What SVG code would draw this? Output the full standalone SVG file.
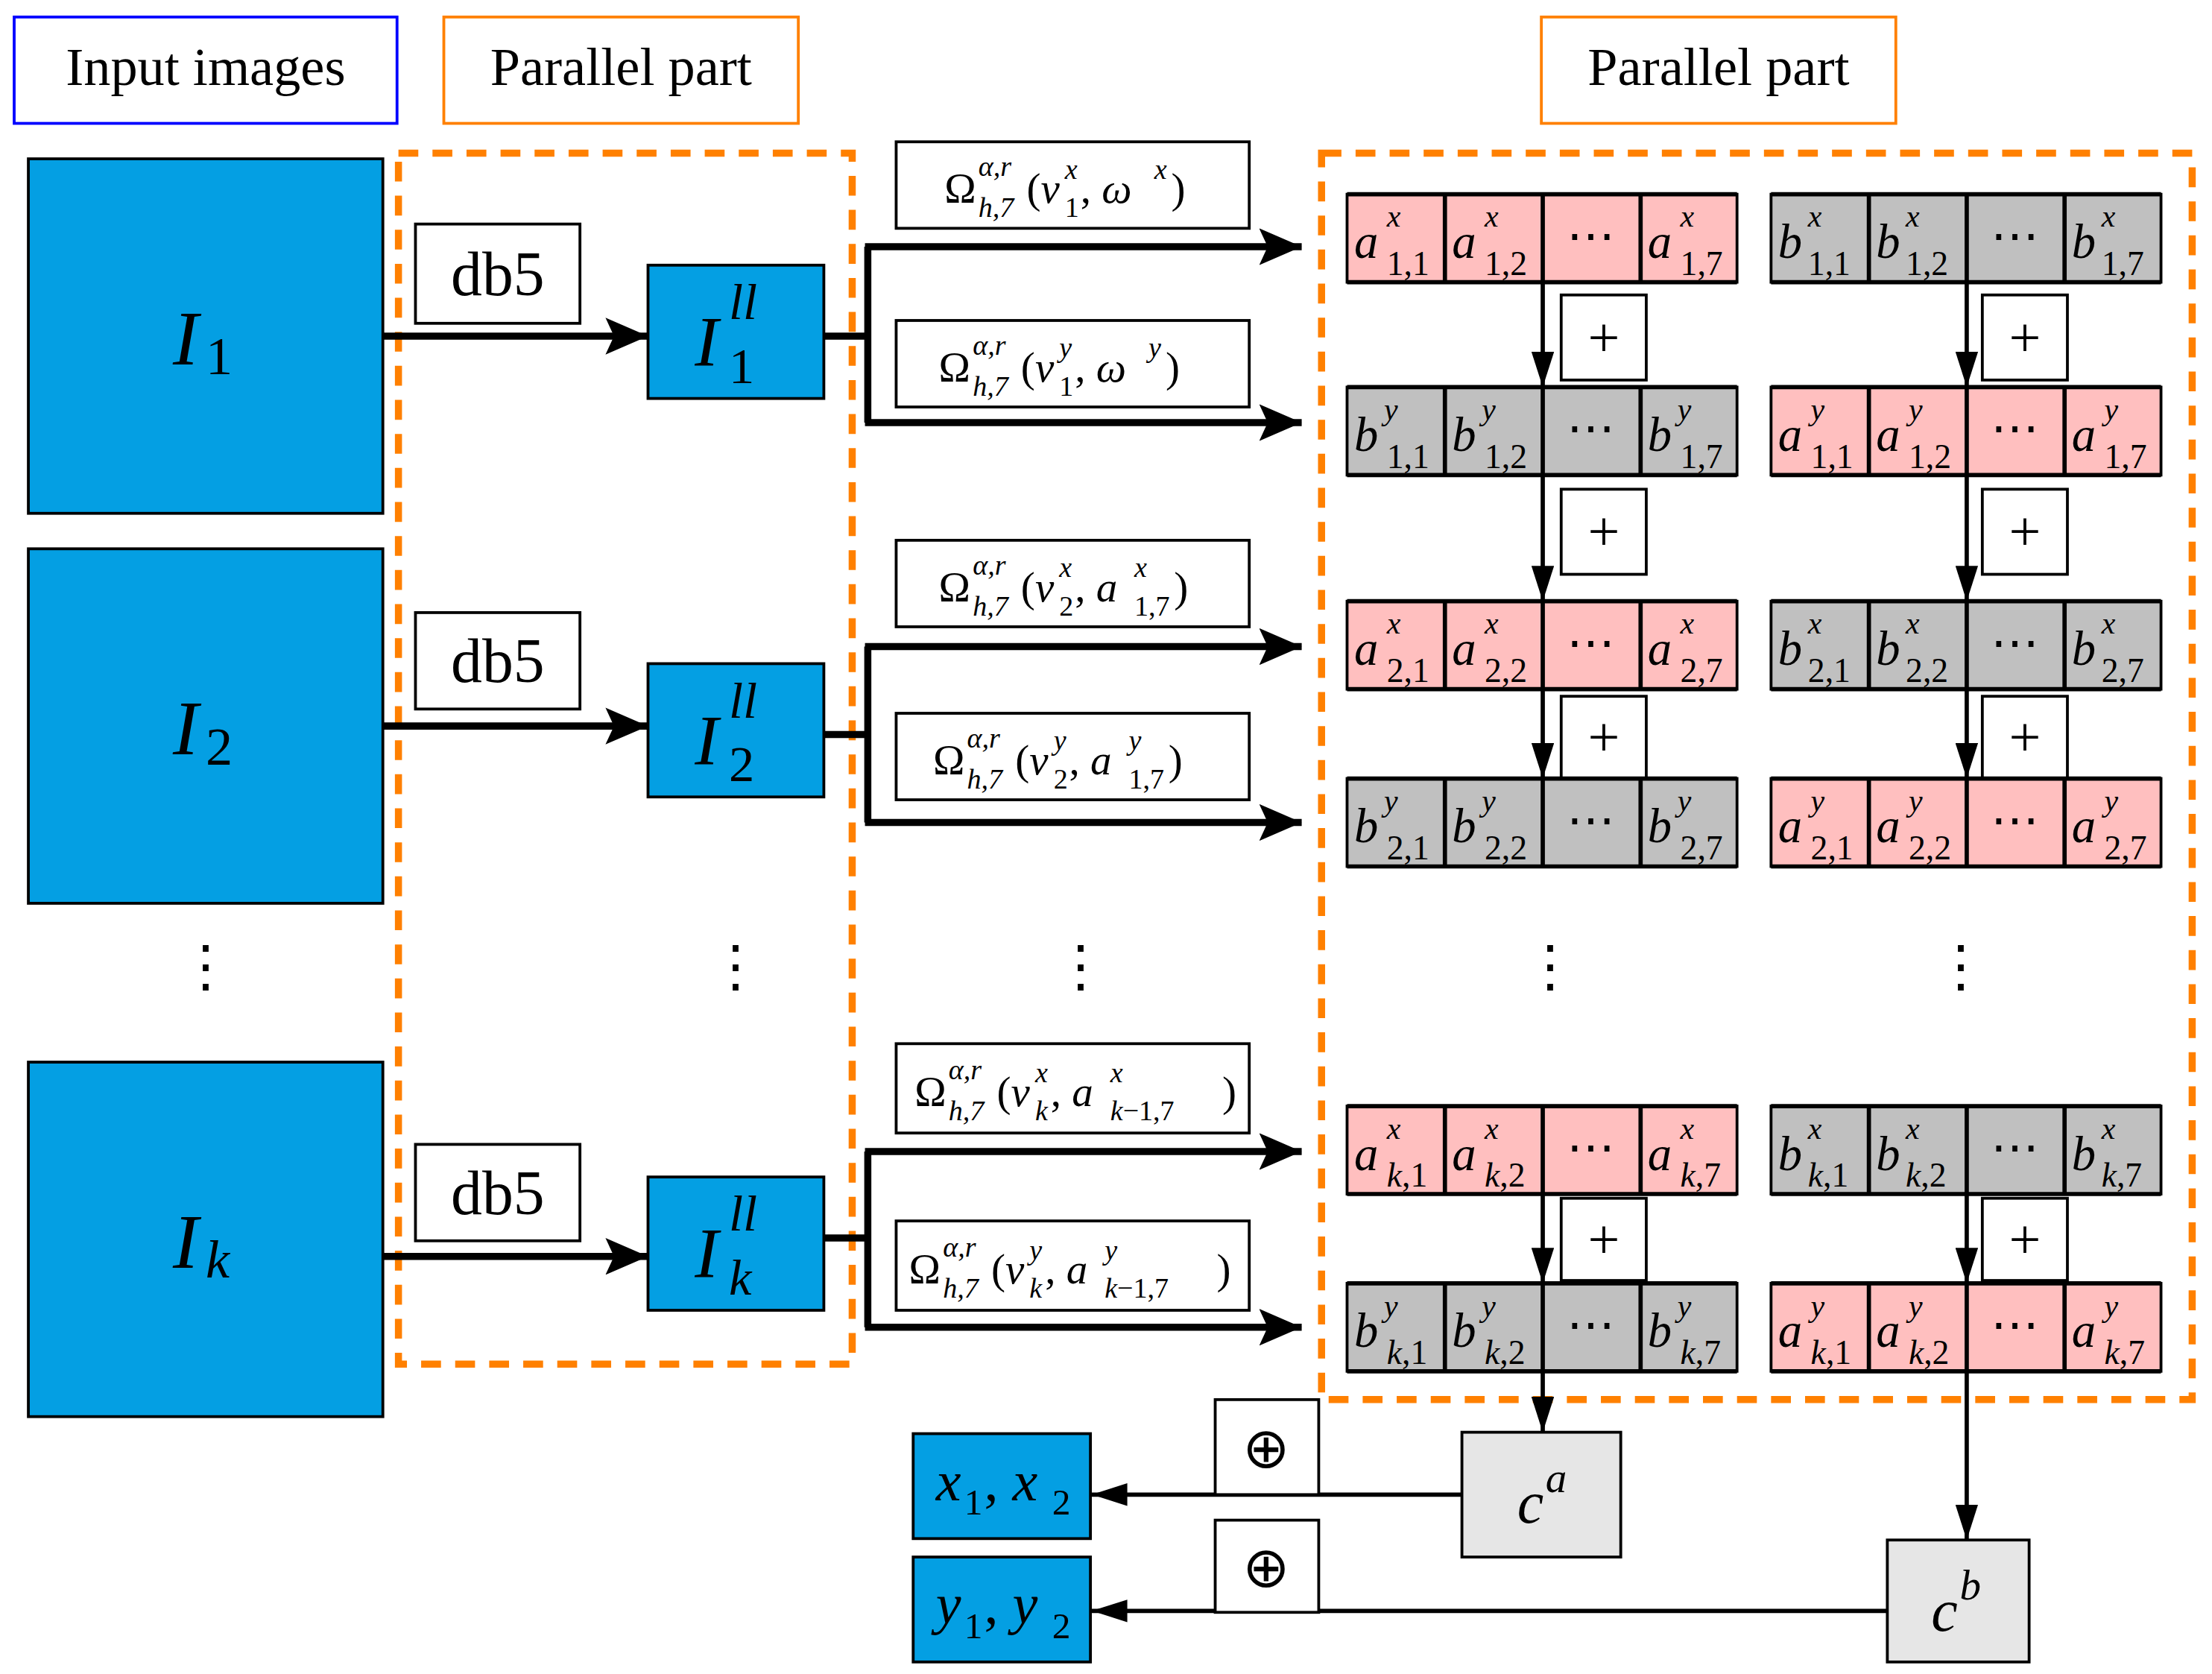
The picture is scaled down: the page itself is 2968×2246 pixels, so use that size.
<svg xmlns="http://www.w3.org/2000/svg" width="2968" height="2246" viewBox="0 0 2968 2246">
<style>
.t{font-family:"Liberation Serif",serif;fill:#000}
.i{font-style:italic}
.bx{fill:#fff;stroke:#000;stroke-width:2}
.blue{fill:#049fe3;stroke:#000;stroke-width:2}
.pk{fill:#ffbfbf;stroke:#000;stroke-width:2}
.gy{fill:#c0c0c0;stroke:#000;stroke-width:2}
.lg{fill:#e6e6e6;stroke:#000;stroke-width:2}
.dash{fill:none;stroke:#ff8000;stroke-width:5;stroke-dasharray:14,10}
.w{stroke:#000;stroke-width:5;fill:none}
.n{stroke:#000;stroke-width:3;fill:none}
</style>
<defs>
<marker id="ah" markerUnits="userSpaceOnUse" markerWidth="32" markerHeight="26" refX="30" refY="13" orient="auto"><path d="M0,0 L30,13 L0,26 L6,13 Z" fill="#000"/></marker>
<marker id="as" markerUnits="userSpaceOnUse" markerWidth="26" markerHeight="16" refX="25" refY="8" orient="auto"><path d="M0,0 L25,8 L0,16 Z" fill="#000"/></marker>
</defs>
<rect width="2968" height="2246" fill="#fff"/>
<g transform="scale(1.9026)">
<g id="titles">
<rect x="10" y="12" width="270" height="75" fill="#fff" stroke="#0000ff" stroke-width="2"/>
<text class="t" x="145" y="60" font-size="38" text-anchor="middle">Input images</text>
<rect x="313" y="12" width="250" height="75" fill="#fff" stroke="#ff8000" stroke-width="2"/>
<text class="t" x="438" y="60" font-size="38" text-anchor="middle">Parallel part</text>
<rect x="1087" y="12" width="250" height="75" fill="#fff" stroke="#ff8000" stroke-width="2"/>
<text class="t" x="1212" y="60" font-size="38" text-anchor="middle">Parallel part</text>
</g>
<g id="frames">
<rect class="dash" x="281" y="108" width="320" height="854"/>
<rect class="dash" x="932" y="108" width="614" height="879"/>
</g>
<g id="inputs">
<rect class="blue" x="20" y="112" width="250" height="250"/>
<text class="t" font-size="54"><tspan class="i" x="122" y="257">I</tspan><tspan x="145" y="264" font-size="38">1</tspan></text>
<rect class="blue" x="20" y="387" width="250" height="250"/>
<text class="t" font-size="54"><tspan class="i" x="122" y="532">I</tspan><tspan x="145" y="539" font-size="38">2</tspan></text>
<rect class="blue" x="20" y="749" width="250" height="250"/>
<text class="t" font-size="54"><tspan class="i" x="122" y="894">I</tspan><tspan class="i" x="145" y="901" font-size="38">k</tspan></text>
</g>
<g id="db5">
<rect class="bx" x="293" y="158" width="116" height="70"/><text class="t" x="351" y="208" font-size="44" text-anchor="middle">db5</text>
<rect class="bx" x="293" y="432" width="116" height="68"/><text class="t" x="351" y="481" font-size="44" text-anchor="middle">db5</text>
<rect class="bx" x="293" y="807" width="116" height="68"/><text class="t" x="351" y="856" font-size="44" text-anchor="middle">db5</text>
</g>
<g id="ll">
<rect class="blue" x="457" y="187" width="124" height="94"/>
<text class="t i" font-size="50"><tspan x="490" y="258">I</tspan><tspan x="514" y="225" font-size="36">ll</tspan><tspan x="514" y="270" font-size="36" font-style="normal">1</tspan></text>
<rect class="blue" x="457" y="468" width="124" height="94"/>
<text class="t i" font-size="50"><tspan x="490" y="539">I</tspan><tspan x="514" y="506" font-size="36">ll</tspan><tspan x="514" y="551" font-size="36" font-style="normal">2</tspan></text>
<rect class="blue" x="457" y="830" width="124" height="94"/>
<text class="t i" font-size="50"><tspan x="490" y="901">I</tspan><tspan x="514" y="868" font-size="36">ll</tspan><tspan x="514" y="913" font-size="36">k</tspan></text>
</g>
<g id="dots" class="t" font-size="40" text-anchor="middle">
<text x="145" y="695">⋮</text><text x="519" y="695">⋮</text><text x="762" y="695">⋮</text><text x="1093" y="695">⋮</text><text x="1383" y="695">⋮</text>
</g>
<g id="omega" class="t" font-size="30">
<rect class="bx" x="632" y="100" width="249" height="61"/>
<text><tspan x="666" y="143">Ω</tspan><tspan class="i" x="690" y="124" font-size="20">α,r</tspan><tspan class="i" x="690" y="153" font-size="20">h,7</tspan><tspan x="724" y="143">(</tspan><tspan class="i">ν</tspan><tspan class="i" x="751" y="126" font-size="20">x</tspan><tspan x="751" y="153" font-size="20">1</tspan><tspan x="762" y="143">, </tspan><tspan class="i">ω</tspan><tspan class="i" x="814" y="126" font-size="20">x</tspan><tspan x="826" y="143">)</tspan></text>
<rect class="bx" x="632" y="226" width="249" height="61"/>
<text><tspan x="662" y="269">Ω</tspan><tspan class="i" x="686" y="250" font-size="20">α,r</tspan><tspan class="i" x="686" y="279" font-size="20">h,7</tspan><tspan x="720" y="269">(</tspan><tspan class="i">ν</tspan><tspan class="i" x="747" y="252" font-size="20">y</tspan><tspan x="747" y="279" font-size="20">1</tspan><tspan x="758" y="269">, </tspan><tspan class="i">ω</tspan><tspan class="i" x="810" y="252" font-size="20">y</tspan><tspan x="822" y="269">)</tspan></text>
<rect class="bx" x="632" y="381" width="249" height="61"/>
<text><tspan x="662" y="424">Ω</tspan><tspan class="i" x="686" y="405" font-size="20">α,r</tspan><tspan class="i" x="686" y="434" font-size="20">h,7</tspan><tspan x="720" y="424">(</tspan><tspan class="i">ν</tspan><tspan class="i" x="747" y="407" font-size="20">x</tspan><tspan x="747" y="434" font-size="20">2</tspan><tspan x="758" y="424">, </tspan><tspan class="i">a</tspan><tspan class="i" x="800" y="407" font-size="20">x</tspan><tspan x="800" y="434" font-size="20">1,7</tspan><tspan x="828" y="424">)</tspan></text>
<rect class="bx" x="632" y="503" width="249" height="61"/>
<text><tspan x="658" y="546">Ω</tspan><tspan class="i" x="682" y="527" font-size="20">α,r</tspan><tspan class="i" x="682" y="556" font-size="20">h,7</tspan><tspan x="716" y="546">(</tspan><tspan class="i">ν</tspan><tspan class="i" x="743" y="529" font-size="20">y</tspan><tspan x="743" y="556" font-size="20">2</tspan><tspan x="754" y="546">, </tspan><tspan class="i">a</tspan><tspan class="i" x="796" y="529" font-size="20">y</tspan><tspan x="796" y="556" font-size="20">1,7</tspan><tspan x="824" y="546">)</tspan></text>
<rect class="bx" x="632" y="736" width="249" height="63"/>
<text><tspan x="645" y="780">Ω</tspan><tspan class="i" x="669" y="761" font-size="20">α,r</tspan><tspan class="i" x="669" y="790" font-size="20">h,7</tspan><tspan x="703" y="780">(</tspan><tspan class="i">ν</tspan><tspan class="i" x="730" y="763" font-size="20">x</tspan><tspan class="i" x="730" y="790" font-size="20">k</tspan><tspan x="741" y="780">, </tspan><tspan class="i">a</tspan><tspan class="i" x="783" y="763" font-size="20">x</tspan><tspan class="i" x="783" y="790" font-size="20">k</tspan><tspan font-size="20">−1,7</tspan><tspan x="862" y="780">)</tspan></text>
<rect class="bx" x="632" y="861" width="249" height="63"/>
<text><tspan x="641" y="905">Ω</tspan><tspan class="i" x="665" y="886" font-size="20">α,r</tspan><tspan class="i" x="665" y="915" font-size="20">h,7</tspan><tspan x="699" y="905">(</tspan><tspan class="i">ν</tspan><tspan class="i" x="726" y="888" font-size="20">y</tspan><tspan class="i" x="726" y="915" font-size="20">k</tspan><tspan x="737" y="905">, </tspan><tspan class="i">a</tspan><tspan class="i" x="779" y="888" font-size="20">y</tspan><tspan class="i" x="779" y="915" font-size="20">k</tspan><tspan font-size="20">−1,7</tspan><tspan x="858" y="905">)</tspan></text>
</g>
<g id="connectors">
<line class="w" x1="270" y1="237" x2="457" y2="237" marker-end="url(#ah)"/>
<line class="w" x1="270" y1="512" x2="457" y2="512" marker-end="url(#ah)"/>
<line class="w" x1="270" y1="886" x2="457" y2="886" marker-end="url(#ah)"/>
<path class="w" d="M581,237 H612 M612,174 V298"/>
<line class="w" x1="610" y1="174" x2="918" y2="174" marker-end="url(#ah)"/>
<line class="w" x1="610" y1="298" x2="918" y2="298" marker-end="url(#ah)"/>
<path class="w" d="M581,518 H612 M612,456 V580"/>
<line class="w" x1="610" y1="456" x2="918" y2="456" marker-end="url(#ah)"/>
<line class="w" x1="610" y1="580" x2="918" y2="580" marker-end="url(#ah)"/>
<path class="w" d="M581,873 H612 M612,812 V936"/>
<line class="w" x1="610" y1="812" x2="918" y2="812" marker-end="url(#ah)"/>
<line class="w" x1="610" y1="936" x2="918" y2="936" marker-end="url(#ah)"/>
<g class="n">
<line x1="1088" y1="199" x2="1088" y2="273" marker-end="url(#as)"/>
<line x1="1088" y1="335" x2="1088" y2="424" marker-end="url(#as)"/>
<line x1="1088" y1="486" x2="1088" y2="549" marker-end="url(#as)"/>
<line x1="1088" y1="842" x2="1088" y2="905" marker-end="url(#as)"/>
<line x1="1088" y1="967" x2="1088" y2="1010" marker-end="url(#as)"/>
<line x1="1387" y1="199" x2="1387" y2="273" marker-end="url(#as)"/>
<line x1="1387" y1="335" x2="1387" y2="424" marker-end="url(#as)"/>
<line x1="1387" y1="486" x2="1387" y2="549" marker-end="url(#as)"/>
<line x1="1387" y1="842" x2="1387" y2="905" marker-end="url(#as)"/>
<line x1="1387" y1="967" x2="1387" y2="1086" marker-end="url(#as)"/>
<line x1="1031" y1="1054" x2="770" y2="1054" marker-end="url(#as)"/>
<line x1="1331" y1="1136" x2="770" y2="1136" marker-end="url(#as)"/>
</g>
</g>
<g id="plus" class="t" font-size="40" text-anchor="middle">
<rect class="bx" x="1101" y="208" width="60" height="60"/><text x="1131" y="251">+</text>
<rect class="bx" x="1101" y="345" width="60" height="60"/><text x="1131" y="388">+</text>
<rect class="bx" x="1101" y="491" width="60" height="58"/><text x="1131" y="533">+</text>
<rect class="bx" x="1101" y="845" width="60" height="58"/><text x="1131" y="887">+</text>
<rect class="bx" x="1398" y="208" width="60" height="60"/><text x="1428" y="251">+</text>
<rect class="bx" x="1398" y="345" width="60" height="60"/><text x="1428" y="388">+</text>
<rect class="bx" x="1398" y="491" width="60" height="58"/><text x="1428" y="533">+</text>
<rect class="bx" x="1398" y="845" width="60" height="58"/><text x="1428" y="887">+</text>
<rect class="bx" x="857" y="987" width="73" height="67"/><text x="893" y="1035">⊕</text>
<rect class="bx" x="857" y="1072" width="73" height="65"/><text x="893" y="1119">⊕</text>
</g>
<g id="cells" class="t" font-size="34">
<!-- row0 -->
<g><rect class="pk" x="950" y="137" width="275" height="62"/><path class="n" d="M1019,137V199M1088,137V199M1157,137V199M950,137H1225M950,199H1225"/>
<text class="i"><tspan x="955" y="182">a</tspan><tspan x="978" y="160" font-size="22">x</tspan><tspan x="1024" y="182">a</tspan><tspan x="1047" y="160" font-size="22">x</tspan><tspan x="1162" y="182">a</tspan><tspan x="1185" y="160" font-size="22">x</tspan></text>
<text font-size="24"><tspan x="978" y="194">1,1</tspan><tspan x="1047" y="194">1,2</tspan><tspan x="1185" y="194">1,7</tspan></text><text x="1122" y="178" text-anchor="middle">⋯</text></g>
<g><rect class="gy" x="1249" y="137" width="275" height="62"/><path class="n" d="M1318,137V199M1387,137V199M1456,137V199M1249,137H1524M1249,199H1524"/>
<text class="i"><tspan x="1254" y="182">b</tspan><tspan x="1275" y="160" font-size="22">x</tspan><tspan x="1323" y="182">b</tspan><tspan x="1344" y="160" font-size="22">x</tspan><tspan x="1461" y="182">b</tspan><tspan x="1482" y="160" font-size="22">x</tspan></text>
<text font-size="24"><tspan x="1275" y="194">1,1</tspan><tspan x="1344" y="194">1,2</tspan><tspan x="1482" y="194">1,7</tspan></text><text x="1421" y="178" text-anchor="middle">⋯</text></g>
<!-- row1 -->
<g><rect class="gy" x="950" y="273" width="275" height="62"/><path class="n" d="M1019,273V335M1088,273V335M1157,273V335M950,273H1225M950,335H1225"/>
<text class="i"><tspan x="955" y="318">b</tspan><tspan x="976" y="296" font-size="22">y</tspan><tspan x="1024" y="318">b</tspan><tspan x="1045" y="296" font-size="22">y</tspan><tspan x="1162" y="318">b</tspan><tspan x="1183" y="296" font-size="22">y</tspan></text>
<text font-size="24"><tspan x="978" y="330">1,1</tspan><tspan x="1047" y="330">1,2</tspan><tspan x="1185" y="330">1,7</tspan></text><text x="1122" y="314" text-anchor="middle">⋯</text></g>
<g><rect class="pk" x="1249" y="273" width="275" height="62"/><path class="n" d="M1318,273V335M1387,273V335M1456,273V335M1249,273H1524M1249,335H1524"/>
<text class="i"><tspan x="1254" y="318">a</tspan><tspan x="1277" y="296" font-size="22">y</tspan><tspan x="1323" y="318">a</tspan><tspan x="1346" y="296" font-size="22">y</tspan><tspan x="1461" y="318">a</tspan><tspan x="1484" y="296" font-size="22">y</tspan></text>
<text font-size="24"><tspan x="1277" y="330">1,1</tspan><tspan x="1346" y="330">1,2</tspan><tspan x="1484" y="330">1,7</tspan></text><text x="1421" y="314" text-anchor="middle">⋯</text></g>
<!-- row2 -->
<g><rect class="pk" x="950" y="424" width="275" height="62"/><path class="n" d="M1019,424V486M1088,424V486M1157,424V486M950,424H1225M950,486H1225"/>
<text class="i"><tspan x="955" y="469">a</tspan><tspan x="978" y="447" font-size="22">x</tspan><tspan x="1024" y="469">a</tspan><tspan x="1047" y="447" font-size="22">x</tspan><tspan x="1162" y="469">a</tspan><tspan x="1185" y="447" font-size="22">x</tspan></text>
<text font-size="24"><tspan x="978" y="481">2,1</tspan><tspan x="1047" y="481">2,2</tspan><tspan x="1185" y="481">2,7</tspan></text><text x="1122" y="465" text-anchor="middle">⋯</text></g>
<g><rect class="gy" x="1249" y="424" width="275" height="62"/><path class="n" d="M1318,424V486M1387,424V486M1456,424V486M1249,424H1524M1249,486H1524"/>
<text class="i"><tspan x="1254" y="469">b</tspan><tspan x="1275" y="447" font-size="22">x</tspan><tspan x="1323" y="469">b</tspan><tspan x="1344" y="447" font-size="22">x</tspan><tspan x="1461" y="469">b</tspan><tspan x="1482" y="447" font-size="22">x</tspan></text>
<text font-size="24"><tspan x="1275" y="481">2,1</tspan><tspan x="1344" y="481">2,2</tspan><tspan x="1482" y="481">2,7</tspan></text><text x="1421" y="465" text-anchor="middle">⋯</text></g>
<!-- row3 -->
<g><rect class="gy" x="950" y="549" width="275" height="62"/><path class="n" d="M1019,549V611M1088,549V611M1157,549V611M950,549H1225M950,611H1225"/>
<text class="i"><tspan x="955" y="594">b</tspan><tspan x="976" y="572" font-size="22">y</tspan><tspan x="1024" y="594">b</tspan><tspan x="1045" y="572" font-size="22">y</tspan><tspan x="1162" y="594">b</tspan><tspan x="1183" y="572" font-size="22">y</tspan></text>
<text font-size="24"><tspan x="978" y="606">2,1</tspan><tspan x="1047" y="606">2,2</tspan><tspan x="1185" y="606">2,7</tspan></text><text x="1122" y="590" text-anchor="middle">⋯</text></g>
<g><rect class="pk" x="1249" y="549" width="275" height="62"/><path class="n" d="M1318,549V611M1387,549V611M1456,549V611M1249,549H1524M1249,611H1524"/>
<text class="i"><tspan x="1254" y="594">a</tspan><tspan x="1277" y="572" font-size="22">y</tspan><tspan x="1323" y="594">a</tspan><tspan x="1346" y="572" font-size="22">y</tspan><tspan x="1461" y="594">a</tspan><tspan x="1484" y="572" font-size="22">y</tspan></text>
<text font-size="24"><tspan x="1277" y="606">2,1</tspan><tspan x="1346" y="606">2,2</tspan><tspan x="1484" y="606">2,7</tspan></text><text x="1421" y="590" text-anchor="middle">⋯</text></g>
<!-- row4 -->
<g><rect class="pk" x="950" y="780" width="275" height="62"/><path class="n" d="M1019,780V842M1088,780V842M1157,780V842M950,780H1225M950,842H1225"/>
<text class="i"><tspan x="955" y="825">a</tspan><tspan x="978" y="803" font-size="22">x</tspan><tspan x="1024" y="825">a</tspan><tspan x="1047" y="803" font-size="22">x</tspan><tspan x="1162" y="825">a</tspan><tspan x="1185" y="803" font-size="22">x</tspan></text>
<text font-size="24"><tspan class="i" x="978" y="837">k</tspan><tspan>,1</tspan><tspan class="i" x="1047" y="837">k</tspan><tspan>,2</tspan><tspan class="i" x="1185" y="837">k</tspan><tspan>,7</tspan></text><text x="1122" y="821" text-anchor="middle">⋯</text></g>
<g><rect class="gy" x="1249" y="780" width="275" height="62"/><path class="n" d="M1318,780V842M1387,780V842M1456,780V842M1249,780H1524M1249,842H1524"/>
<text class="i"><tspan x="1254" y="825">b</tspan><tspan x="1275" y="803" font-size="22">x</tspan><tspan x="1323" y="825">b</tspan><tspan x="1344" y="803" font-size="22">x</tspan><tspan x="1461" y="825">b</tspan><tspan x="1482" y="803" font-size="22">x</tspan></text>
<text font-size="24"><tspan class="i" x="1275" y="837">k</tspan><tspan>,1</tspan><tspan class="i" x="1344" y="837">k</tspan><tspan>,2</tspan><tspan class="i" x="1482" y="837">k</tspan><tspan>,7</tspan></text><text x="1421" y="821" text-anchor="middle">⋯</text></g>
<!-- row5 -->
<g><rect class="gy" x="950" y="905" width="275" height="62"/><path class="n" d="M1019,905V967M1088,905V967M1157,905V967M950,905H1225M950,967H1225"/>
<text class="i"><tspan x="955" y="950">b</tspan><tspan x="976" y="928" font-size="22">y</tspan><tspan x="1024" y="950">b</tspan><tspan x="1045" y="928" font-size="22">y</tspan><tspan x="1162" y="950">b</tspan><tspan x="1183" y="928" font-size="22">y</tspan></text>
<text font-size="24"><tspan class="i" x="978" y="962">k</tspan><tspan>,1</tspan><tspan class="i" x="1047" y="962">k</tspan><tspan>,2</tspan><tspan class="i" x="1185" y="962">k</tspan><tspan>,7</tspan></text><text x="1122" y="946" text-anchor="middle">⋯</text></g>
<g><rect class="pk" x="1249" y="905" width="275" height="62"/><path class="n" d="M1318,905V967M1387,905V967M1456,905V967M1249,905H1524M1249,967H1524"/>
<text class="i"><tspan x="1254" y="950">a</tspan><tspan x="1277" y="928" font-size="22">y</tspan><tspan x="1323" y="950">a</tspan><tspan x="1346" y="928" font-size="22">y</tspan><tspan x="1461" y="950">a</tspan><tspan x="1484" y="928" font-size="22">y</tspan></text>
<text font-size="24"><tspan class="i" x="1277" y="962">k</tspan><tspan>,1</tspan><tspan class="i" x="1346" y="962">k</tspan><tspan>,2</tspan><tspan class="i" x="1484" y="962">k</tspan><tspan>,7</tspan></text><text x="1421" y="946" text-anchor="middle">⋯</text></g>
</g>
<g id="outputs" class="t">
<rect class="lg" x="1031" y="1010" width="112" height="88"/>
<text class="i" font-size="42"><tspan x="1070" y="1074">c</tspan><tspan x="1090" y="1052" font-size="30">a</tspan></text>
<rect class="lg" x="1331" y="1086" width="100" height="86"/>
<text class="i" font-size="42"><tspan x="1362" y="1150">c</tspan><tspan x="1382" y="1128" font-size="30">b</tspan></text>
<rect class="blue" x="644" y="1011" width="125" height="74"/>
<text font-size="40"><tspan class="i" x="660" y="1058">x</tspan><tspan x="680" y="1068" font-size="26">1</tspan><tspan x="694" y="1058">, </tspan><tspan class="i">x</tspan><tspan x="742" y="1068" font-size="26">2</tspan></text>
<rect class="blue" x="644" y="1098" width="125" height="74"/>
<text font-size="40"><tspan class="i" x="660" y="1145">y</tspan><tspan x="680" y="1155" font-size="26">1</tspan><tspan x="694" y="1145">, </tspan><tspan class="i">y</tspan><tspan x="742" y="1155" font-size="26">2</tspan></text>
</g>
</g>
</svg>
